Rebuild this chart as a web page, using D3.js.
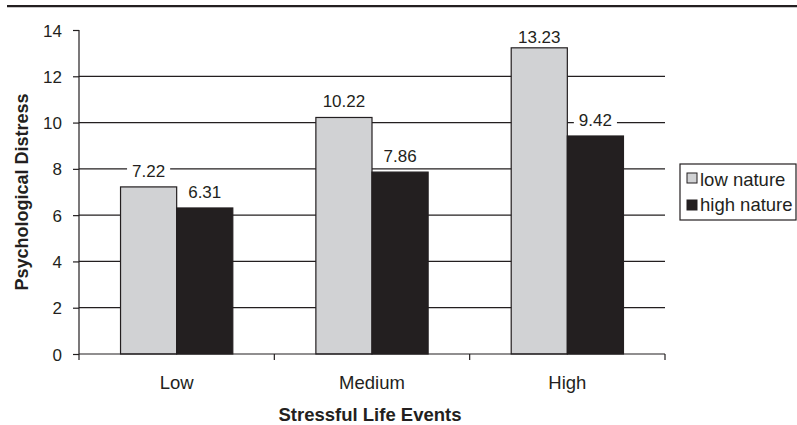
<!DOCTYPE html>
<html>
<head>
<meta charset="utf-8">
<script src="https://cdn.jsdelivr.net/npm/d3@7"></script>
<style>
  body { margin: 0; background: #fff; }
  svg { font-family: "Liberation Sans", Arial, sans-serif; }
</style>
</head>
<body>
<div id="chart"></div>
<script>
const categories = ['Low', 'Medium', 'High'];
const seriesNames = ['low nature', 'high nature'];
const lowNature = [7.22, 10.22, 13.23];
const highNature = [6.31, 7.86, 9.42];
const yTicks = [0, 2, 4, 6, 8, 10, 12, 14];

const colors = ['#d1d2d4', '#231f20'];
const ink = '#231f20';

const width = 797;
const height = 425;
const margin = { top: 30, right: 132, bottom: 71, left: 79 };

const usableArea = {
  top: margin.top,
  right: width - margin.right,
  bottom: height - margin.bottom,
  left: margin.left,
};

const svg = d3.select('#chart')
  .append('svg')
  .attr('width', width)
  .attr('height', height);

// top rule
svg.append('line')
  .attr('x1', 7).attr('x2', width)
  .attr('y1', 6.2).attr('y2', 6.2)
  .attr('stroke', ink)
  .attr('stroke-width', 2.3);

const xScale = d3.scaleBand()
  .domain(categories)
  .range([usableArea.left, usableArea.right]);

const xSeries = d3.scaleBand()
  .domain(seriesNames)
  .range([0, xScale.bandwidth()])
  .paddingInner(0)
  .paddingOuter(0.74);

const yScale = d3.scaleLinear()
  .domain([0, 14])
  .range([usableArea.bottom, usableArea.top]);

// gridlines (not at 0 / 14)
svg.append('g')
  .selectAll('line')
  .data(yTicks.filter(d => d > 0 && d < 14))
  .join('line')
  .attr('x1', usableArea.left)
  .attr('x2', usableArea.right)
  .attr('y1', d => yScale(d))
  .attr('y2', d => yScale(d))
  .attr('stroke', ink)
  .attr('stroke-width', 1.2);

// bars
const rows = categories.map((c, i) => ({ cat: c, values: [lowNature[i], highNature[i]] }));

const groups = svg.append('g')
  .selectAll('g')
  .data(rows)
  .join('g')
  .attr('transform', d => `translate(${xScale(d.cat)},0)`);

groups.selectAll('rect')
  .data(d => d.values.map((v, j) => ({ name: seriesNames[j], value: v, j })))
  .join('rect')
  .attr('x', d => xSeries(d.name))
  .attr('y', d => yScale(d.value))
  .attr('width', xSeries.bandwidth())
  .attr('height', d => yScale(0) - yScale(d.value))
  .attr('fill', d => colors[d.j])
  .attr('stroke', ink)
  .attr('stroke-width', 1.2);

// value labels with white background
groups.each(function (d) {
  const g = d3.select(this);
  d.values.forEach((v, j) => {
    const cx = xSeries(seriesNames[j]) + xSeries.bandwidth() / 2;
    // keep label inside plot area
    const y = Math.max(yScale(v) - 10, usableArea.top + 13);
    const t = g.append('text')
      .attr('x', cx)
      .attr('y', y)
      .attr('text-anchor', 'middle')
      .attr('font-size', 17)
      .attr('fill', ink)
      .text(v.toFixed(2));
    const bb = t.node().getBBox();
    g.insert('rect', () => t.node())
      .attr('x', bb.x - 5)
      .attr('y', bb.y)
      .attr('width', bb.width + 10)
      .attr('height', bb.height)
      .attr('fill', '#fff');
  });
});

// y axis
const yAxis = d3.axisLeft(yScale)
  .tickValues(yTicks)
  .tickSize(6)
  .tickPadding(11)
  .tickFormat(d3.format('d'));

const yG = svg.append('g')
  .attr('transform', `translate(${usableArea.left},0)`)
  .call(yAxis);
yG.select('.domain').attr('stroke', ink).attr('stroke-width', 1.2)
  .attr('d', `M0,${yScale(14)}V${yScale(0)}`);
yG.selectAll('.tick line').attr('stroke', ink).attr('stroke-width', 1.2);
yG.selectAll('text')
  .attr('font-size', 17)
  .attr('font-family', '"Liberation Sans", Arial, sans-serif')
  .attr('fill', ink)
  .attr('dy', '0.36em');

// x axis
const xG = svg.append('g')
  .attr('transform', `translate(0,${usableArea.bottom})`);
xG.append('line')
  .attr('x1', usableArea.left).attr('x2', usableArea.right)
  .attr('y1', 0).attr('y2', 0)
  .attr('stroke', ink).attr('stroke-width', 1.2);
const xTickPos = categories.map(c => xScale(c)).concat([usableArea.right]);
xG.selectAll('.xtick')
  .data(xTickPos)
  .join('line')
  .attr('class', 'xtick')
  .attr('x1', d => d).attr('x2', d => d)
  .attr('y1', 0).attr('y2', 6)
  .attr('stroke', ink).attr('stroke-width', 1.2);
xG.selectAll('.xlabel')
  .data(categories)
  .join('text')
  .attr('class', 'xlabel')
  .attr('x', d => xScale(d) + xScale.bandwidth() / 2)
  .attr('y', 35)
  .attr('text-anchor', 'middle')
  .attr('font-size', 18.5)
  .attr('fill', ink)
  .text(d => d);

// axis titles
svg.append('text')
  .attr('x', (usableArea.left + usableArea.right) / 2 - 2)
  .attr('y', 421)
  .attr('text-anchor', 'middle')
  .attr('font-size', 18.5)
  .attr('font-weight', 'bold')
  .attr('fill', ink)
  .text('Stressful Life Events');

svg.append('text')
  .attr('transform', `translate(28,${(usableArea.top + usableArea.bottom) / 2}) rotate(-90)`)
  .attr('text-anchor', 'middle')
  .attr('font-size', 18)
  .attr('font-weight', 'bold')
  .attr('fill', ink)
  .text('Psychological Distress');

// legend
const legend = svg.append('g').attr('transform', 'translate(680,164)');
legend.append('rect')
  .attr('x', 0).attr('y', 0)
  .attr('width', 116).attr('height', 56)
  .attr('fill', '#fff')
  .attr('stroke', ink)
  .attr('stroke-width', 1.2);
seriesNames.forEach((name, i) => {
  legend.append('rect')
    .attr('x', 7).attr('y', 9 + i * 27)
    .attr('width', 10).attr('height', 10)
    .attr('fill', colors[i])
    .attr('stroke', ink)
    .attr('stroke-width', 1);
  legend.append('text')
    .attr('x', 20).attr('y', 22 + i * 25)
    .attr('font-size', 18.5)
    .attr('fill', ink)
    .text(name);
});
</script>
</body>
</html>
